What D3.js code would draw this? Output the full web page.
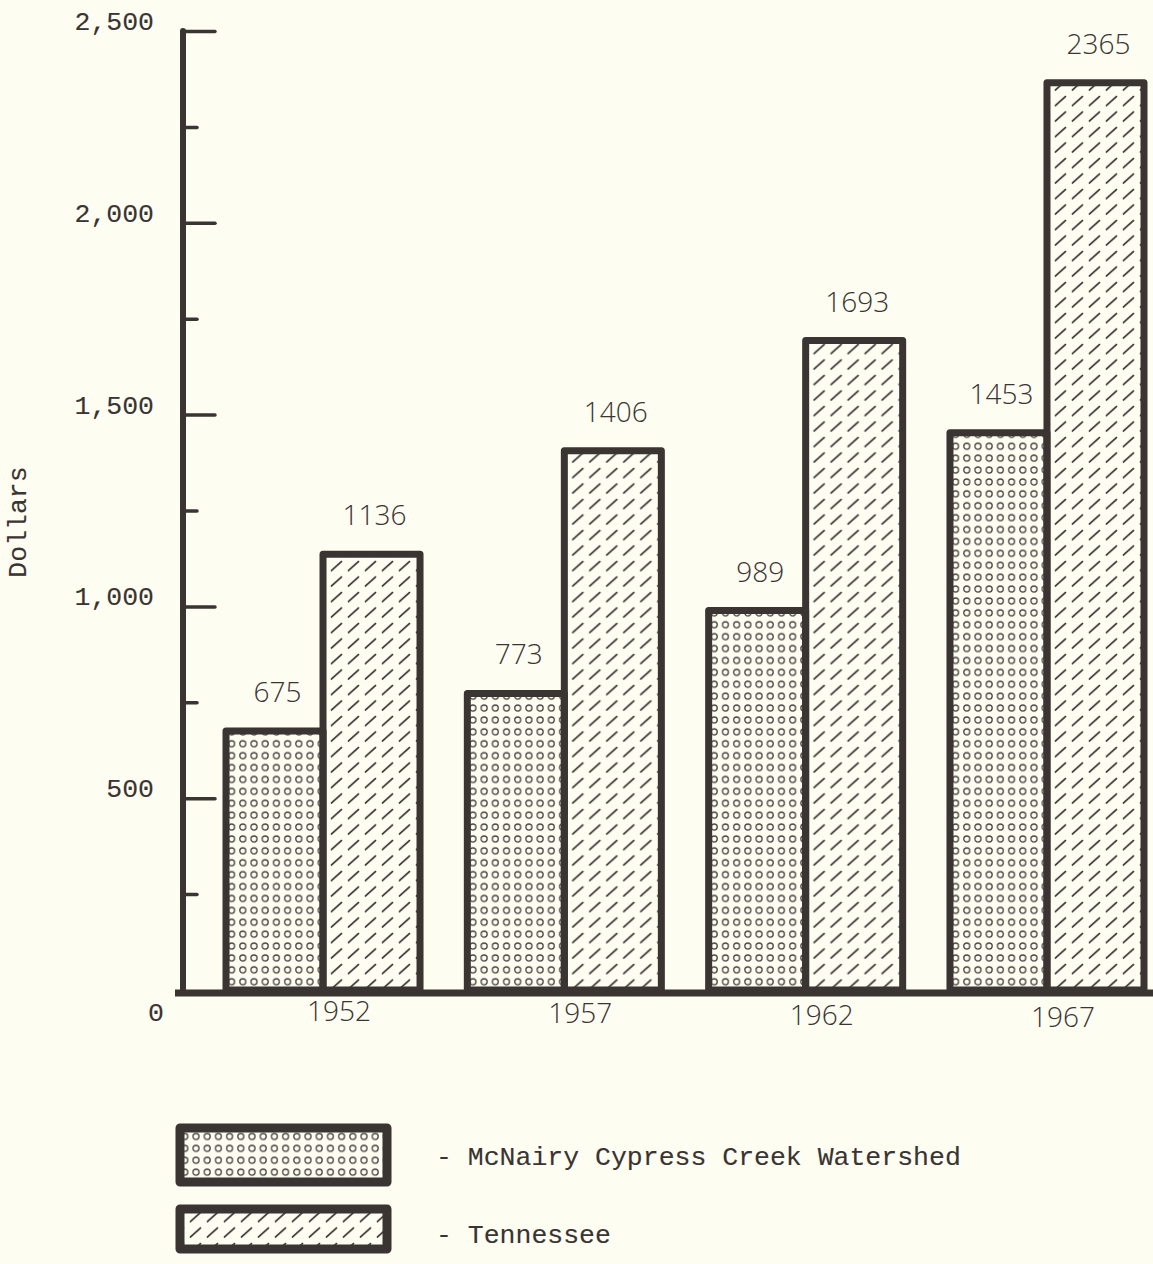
<!DOCTYPE html>
<html>
<head>
<meta charset="utf-8">
<script src="https://cdn.jsdelivr.net/npm/d3@7"></script>
<style>
  html, body { margin: 0; padding: 0; background: #fdfdf2; }
  svg { display: block; }
  .type { font-family: "Liberation Mono", "DejaVu Sans Mono", monospace; fill: #3a3432; stroke: #3a3432; stroke-width: 0.12px; }
  .num { font-family: "Open Sans", "Lato", sans-serif; font-weight: 300; fill: #3a3432; }
</style>
</head>
<body>
<svg id="chart" width="1153" height="1264"></svg>
<script>
// Per-farm value in dollars, by census year
const years = ["1952", "1957", "1962", "1967"];
const seriesNames = ["McNairy Cypress Creek Watershed", "Tennessee"];
const watershed = [675, 773, 989, 1453];
const tennessee = [1136, 1406, 1693, 2365];
const majorTicks = [0, 500, 1000, 1500, 2000, 2500];
const minorTicks = [250, 750, 1250, 1750, 2250];
const yAxisTitle = "Dollars";

const ink = "#3a3432";
const svg = d3.select("#chart");

// Fill patterns: small open circles and short slashes
const defs = svg.append("defs");
const dots = defs.append("pattern")
  .attr("id", "dots").attr("patternUnits", "userSpaceOnUse")
  .attr("width", 11.2).attr("height", 11.9);
dots.append("circle").attr("cx", 5.6).attr("cy", 6).attr("r", 3)
  .attr("fill", "none").attr("stroke", "#4a4442").attr("stroke-width", 1.3);

const hatch = defs.append("pattern")
  .attr("id", "hatch").attr("patternUnits", "userSpaceOnUse")
  .attr("width", 17).attr("height", 15.5);
hatch.append("line").attr("x1", 3.5).attr("y1", 12.5).attr("x2", 13.5).attr("y2", 3.5)
  .attr("stroke", ink).attr("stroke-width", 1.8).attr("stroke-linecap", "round");

const fills = ["url(#dots)", "url(#hatch)"];

// Scales
const y = d3.scaleLinear().domain([0, 2500]).range([990, 31]);
const x = d3.scaleBand().domain(years).range([226, 1144]).paddingInner(0.196).paddingOuter(0);
const xs = d3.scaleBand().domain(seriesNames).range([0, x.bandwidth()]).padding(0);

const rows = years.map((yr, i) => ({ year: yr, values: [watershed[i], tennessee[i]] }));

// Bars
const groups = svg.append("g").selectAll("g").data(rows).join("g")
  .attr("transform", d => `translate(${x(d.year)},0)`);

const bars = groups.selectAll("g.bar")
  .data(d => d.values.map((v, k) => ({ name: seriesNames[k], value: v, k })))
  .join("g").attr("class", "bar");

bars.append("rect")
  .attr("x", d => xs(d.name))
  .attr("y", d => y(d.value))
  .attr("width", xs.bandwidth())
  .attr("height", d => y(0) - y(d.value))
  .attr("fill", d => fills[d.k])
  .attr("stroke", ink).attr("stroke-width", 7).attr("stroke-linejoin", "round");

// Value labels above each bar
bars.append("text").attr("class", "num")
  .attr("x", d => xs(d.name) + xs.bandwidth() / 2 + 3)
  .attr("y", d => y(d.value) - 29)
  .attr("text-anchor", "middle")
  .attr("font-size", 28)
  .text(d => d.value);

// Y axis: heavy spine with inward ticks
svg.append("line")
  .attr("x1", 183).attr("x2", 183).attr("y1", y(2500)).attr("y2", y(0) + 3)
  .attr("stroke", ink).attr("stroke-width", 6).attr("stroke-linecap", "round");

const axisMajor = svg.append("g").attr("transform", "translate(183,0)")
  .call(d3.axisRight(y).tickValues(majorTicks.filter(v => v > 0)).tickSize(32).tickFormat(""));
const axisMinor = svg.append("g").attr("transform", "translate(183,0)")
  .call(d3.axisRight(y).tickValues(minorTicks).tickSize(14).tickFormat(""));
[axisMajor, axisMinor].forEach(a => {
  a.select(".domain").remove();
  a.selectAll(".tick line").attr("stroke", ink).attr("stroke-width", 3.5).attr("stroke-linecap", "round");
});

// Y tick labels, typewritten
svg.append("g").selectAll("text").data(majorTicks).join("text")
  .attr("class", "type")
  .attr("x", d => d === 0 ? 164 : 154)
  .attr("y", d => d === 0 ? y(d) + 31 : y(d) - 1)
  .attr("text-anchor", "end")
  .attr("font-size", 26.5)
  .text(d => d3.format(",")(d));

// Baseline
svg.append("line")
  .attr("x1", 175).attr("x2", 1153).attr("y1", y(0) + 3).attr("y2", y(0) + 3)
  .attr("stroke", ink).attr("stroke-width", 7);

// Year labels
svg.append("g").selectAll("text").data(years).join("text")
  .attr("class", "num")
  .attr("x", d => x(d) + x.bandwidth() / 2 + 16)
  .attr("y", (d, i) => y(0) + 31 + i * 2)
  .attr("text-anchor", "middle")
  .attr("font-size", 28)
  .text(d => d);

// Axis title
svg.append("text").attr("class", "type")
  .attr("transform", "translate(26,522) rotate(-90)")
  .attr("text-anchor", "middle")
  .attr("font-size", 26.5)
  .text(yAxisTitle);

// Legend
const legend = svg.append("g");
const legendBoxes = [
  { x: 180, y: 1128, w: 207, h: 54 },
  { x: 180, y: 1209, w: 207, h: 40 }
];
legend.selectAll("rect").data(seriesNames).join("rect")
  .attr("x", (d, i) => legendBoxes[i].x)
  .attr("y", (d, i) => legendBoxes[i].y)
  .attr("width", (d, i) => legendBoxes[i].w)
  .attr("height", (d, i) => legendBoxes[i].h)
  .attr("fill", (d, i) => fills[i])
  .attr("stroke", ink).attr("stroke-width", 9).attr("stroke-linejoin", "round");
legend.selectAll("text").data(seriesNames).join("text")
  .attr("class", "type")
  .attr("x", 436)
  .attr("y", (d, i) => [1165, 1243][i])
  .attr("font-size", 26.5)
  .text(d => "- " + d);
</script>
</body>
</html>
